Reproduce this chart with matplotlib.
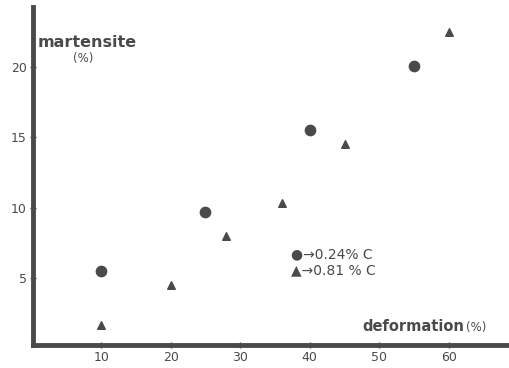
import matplotlib.pyplot as plt

# 0.24 % C steel
def_024 = [10, 25, 40, 55]
mart_024 = [5.5, 9.7, 15.5, 20.1]
# 0.81 % C steel
def_081 = [10, 20, 28, 36, 45, 60]
mart_081 = [1.6, 4.5, 7.95, 10.3, 14.5, 22.5]

xticks = [10, 20, 30, 40, 50, 60]
yticks = [5, 10, 15, 20]

ink = '#4a4a4a'
plt.rcParams['font.family'] = ['DejaVu Sans']

fig = plt.figure(figsize=(5.1, 3.68), dpi=100)
ax = fig.add_axes([33 / 510, 23 / 368, 477 / 510, 338 / 368])

ax.scatter(def_024, mart_024, marker='o', s=55, color=ink, zorder=3)
ax.scatter(def_081, mart_081, marker='^', s=30, color=ink, zorder=3)

ax.set_xlim(0.2, 68.8)
ax.set_ylim(0.2, 24.3)

for s in ['top', 'right']:
    ax.spines[s].set_visible(False)
for s in ['left', 'bottom']:
    ax.spines[s].set_linewidth(3.5)
    ax.spines[s].set_color(ink)

ax.set_xticks(xticks)
ax.set_yticks(yticks)
ax.tick_params(direction='inout', length=5, width=1, color=ink,
               labelcolor=ink, labelsize=9, pad=2)

ax.text(0.8, 21.45, 'martensite', fontsize=11.5, fontweight='bold', color=ink)
ax.text(6.0, 20.4, '(%)', fontsize=8.5, color=ink)
ax.text(62.2, 1.2, 'deformation', fontsize=10.5, fontweight='bold',
        color=ink, ha='right')
ax.text(62.5, 1.2, '(%)', fontsize=8.5, color=ink)

ax.text(37.3, 6.35, '●→0.24% C', fontsize=10, color=ink)
ax.text(37.3, 5.25, '▲→0.81 % C', fontsize=10, color=ink)

fig.savefig('out.png', dpi=100)
